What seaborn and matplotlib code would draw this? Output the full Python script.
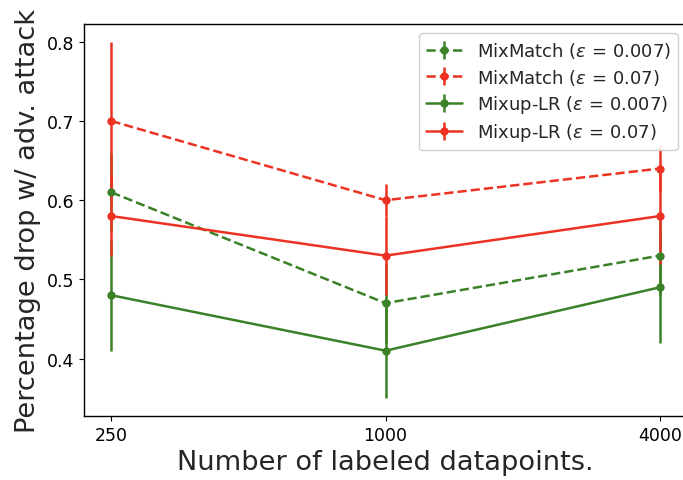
import numpy as np
import matplotlib
matplotlib.use("Agg")
import matplotlib.pyplot as plt
import seaborn as sns

# data
datapoints = [250, 1000, 4000]
tick_labels = ["250", "1000", "4000"]

mixmatch_007 = [0.61, 0.47, 0.53]
mixmatch_007_err = [0.05, 0.05, 0.05]
mixmatch_07 = [0.70, 0.60, 0.64]
mixmatch_07_err = [0.10, 0.02, 0.03]
mixup_007 = [0.48, 0.41, 0.49]
mixup_007_err = [0.07, 0.06, 0.07]
mixup_07 = [0.58, 0.53, 0.58]
mixup_07_err = [0.05, 0.05, 0.06]

green = "#3a8127"
red = "#ec3323"

sns.set_style("ticks")
plt.rcParams['font.family'] = ['DejaVu Sans']

fig = plt.figure(figsize=(6.83, 4.81), dpi=100)
ax = fig.add_axes([0.123, 0.133, 0.883, 0.815])

series = [
    (mixmatch_007, mixmatch_007_err, green, "--", r"MixMatch ($\varepsilon$ = 0.007)"),
    (mixmatch_07, mixmatch_07_err, red, "--", r"MixMatch ($\varepsilon$ = 0.07)"),
    (mixup_007, mixup_007_err, green, "-", r"Mixup-LR ($\varepsilon$ = 0.007)"),
    (mixup_07, mixup_07_err, red, "-", r"Mixup-LR ($\varepsilon$ = 0.07)"),
]
for vals, errs, col, ls, lab in series:
    ax.errorbar(datapoints, vals, yerr=errs, color=col, linestyle=ls, marker="o",
                markersize=5, linewidth=1.8, elinewidth=1.8, label=lab)

ax.set_xscale("log", base=2)
ax.set_xticks(datapoints)
ax.set_xticklabels(tick_labels)
ax.minorticks_off()
ax.set_yticks([0.4, 0.5, 0.6, 0.7, 0.8])
ax.tick_params(labelsize=12.5, colors="black")
for s in ax.spines.values():
    s.set_color("black")
    s.set_linewidth(1.0)

ax.set_xlabel("Number of labeled datapoints.", fontsize=19.6)
ax.set_ylabel("Percentage drop w/ adv. attack", fontsize=19.6)
ax.legend(loc="upper right", fontsize=13, labelspacing=0.35, framealpha=0.9)

fig.savefig("out.png", dpi=100)
